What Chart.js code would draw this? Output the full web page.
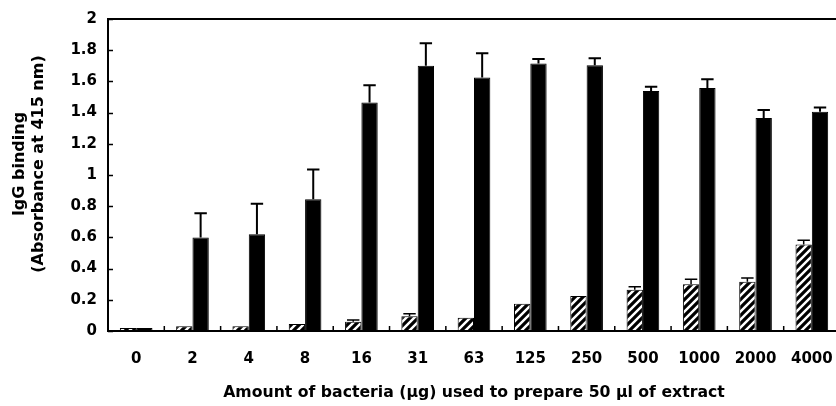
<!DOCTYPE html>
<html>
<head>
<meta charset="utf-8">
<script src="https://cdn.jsdelivr.net/npm/chart.js@4"></script>
<style>
  html, body { margin: 0; padding: 0; background: #fff; overflow: hidden; }
  #wrap { width: 836px; height: 406px; overflow: hidden; }
</style>
</head>
<body>
<div id="wrap"><canvas id="igg" width="842" height="406"></canvas></div>
<script>
var amounts = ['0', '2', '4', '8', '16', '31', '63', '125', '250', '500', '1000', '2000', '4000'];

// hatched bars
var controlMeans = [0.02, 0.03, 0.03, 0.045, 0.06, 0.095, 0.085, 0.175, 0.225, 0.265, 0.30, 0.315, 0.555];
var controlErrs  = [0, 0, 0, 0, 0.01, 0.015, 0, 0, 0, 0.018, 0.032, 0.025, 0.027];

// solid bars
var extractMeans = [0.02, 0.60, 0.62, 0.845, 1.465, 1.70, 1.625, 1.715, 1.703, 1.538, 1.558, 1.365, 1.406];
var extractErrs  = [0, 0.155, 0.195, 0.19, 0.11, 0.145, 0.155, 0.028, 0.045, 0.028, 0.055, 0.052, 0.027];

var yMin = 0;
var yMax = 2;
var yStep = 0.2;

var yTitle = ['IgG binding', '(Absorbance at 415 nm)'];
var xTitle = 'Amount of bacteria (μg) used to prepare 50 μl of extract';

var FONT = "'DejaVu Sans', sans-serif";

function makeHatch() {
	var size = 8;
	var c = document.createElement('canvas');
	c.width = size;
	c.height = size;
	var g = c.getContext('2d');
	g.fillStyle = '#fff';
	g.fillRect(0, 0, size, size);
	g.strokeStyle = '#000';
	g.lineWidth = 3.2;
	g.beginPath();
	g.moveTo(-1, size + 1); g.lineTo(size + 1, -1);
	g.moveTo(-2, 2); g.lineTo(2, -2);
	g.moveTo(size - 2, size + 2); g.lineTo(size + 2, size - 2);
	g.stroke();
	return g.createPattern(c, 'repeat');
}

// error bars, inside ticks, the frame and the rotated y title
var decorations = {
	id: 'decorations',
	afterDatasetsDraw: function(chart) {
		var ctx = chart.ctx;
		var y = chart.scales.y;
		ctx.save();
		ctx.strokeStyle = '#000';
		chart.data.datasets.forEach(function(ds, i) {
			var meta = chart.getDatasetMeta(i);
			meta.data.forEach(function(bar, j) {
				var err = ds.errors[j];
				if (!err) return;
				var top = y.getPixelForValue(ds.data[j] + err);
				var half = bar.width * 0.38;
				ctx.lineWidth = ds.errWidth;
				ctx.beginPath();
				ctx.moveTo(bar.x, bar.y);
				ctx.lineTo(bar.x, top);
				ctx.moveTo(bar.x - half, top);
				ctx.lineTo(bar.x + half, top);
				ctx.stroke();
			});
		});
		ctx.restore();
	},
	afterDraw: function(chart) {
		var ctx = chart.ctx;
		var a = chart.chartArea;
		var y = chart.scales.y;
		ctx.save();
		ctx.strokeStyle = '#000';

		ctx.lineWidth = 1.5;
		ctx.beginPath();
		y.ticks.forEach(function(t) {
			var py = Math.round(y.getPixelForValue(t.value)) + 0.5;
			ctx.moveTo(a.left, py);
			ctx.lineTo(a.left + 5, py);
		});
		var w = (a.right - a.left) / amounts.length;
		for (var k = 1; k < amounts.length; k++) {
			var px = a.left + k * w;
			ctx.moveTo(px, a.bottom);
			ctx.lineTo(px, a.bottom - 5);
		}
		ctx.stroke();

		ctx.lineWidth = 2;
		ctx.strokeRect(a.left, a.top, a.right - a.left, a.bottom - a.top);

		// two-line y title, sits a little above the middle of the axis
		ctx.fillStyle = '#000';
		ctx.font = 'bold 16px ' + FONT;
		ctx.textAlign = 'center';
		ctx.textBaseline = 'middle';
		ctx.translate(0, 164);
		ctx.rotate(-Math.PI / 2);
		ctx.fillText(yTitle[0], 0, 20);
		ctx.fillText(yTitle[1], 0, 39);
		ctx.restore();
	}
};

var ctx = document.getElementById('igg').getContext('2d');
var chart = new Chart(ctx, {
	type: 'bar',
	data: {
		labels: amounts,
		datasets: [{
			data: controlMeans,
			errors: controlErrs,
			errWidth: 1.5,
			backgroundColor: makeHatch(),
			borderColor: '#000',
			borderWidth: 1,
			barPercentage: 1,
			categoryPercentage: 0.58
		}, {
			data: extractMeans,
			errors: extractErrs,
			errWidth: 2,
			backgroundColor: '#000',
			borderColor: '#000',
			borderWidth: 1,
			barPercentage: 1,
			categoryPercentage: 0.58
		}]
	},
	options: {
		responsive: false,
		animation: false,
		devicePixelRatio: 1,
		layout: { padding: { top: 19, right: 2, bottom: 4, left: 0 } },
		plugins: {
			legend: { display: false },
			tooltip: { enabled: false }
		},
		scales: {
			x: {
				grid: { display: false, drawTicks: false },
				border: { display: false },
				ticks: {
					color: '#000',
					padding: 19,
					maxRotation: 0,
					font: { family: FONT, size: 15, weight: 'bold' }
				},
				title: {
					display: true,
					text: xTitle,
					color: '#000',
					padding: { top: 0, bottom: 0 },
					font: { family: FONT, size: 15.7, weight: 'bold', lineHeight: 1.2 }
				},
				afterFit: function(scale) {
					scale.height = 71;
					scale.paddingLeft = 0;
					scale.paddingRight = 0;
				}
			},
			y: {
				min: yMin,
				max: yMax,
				grid: { display: false, drawTicks: false },
				border: { display: false },
				ticks: {
					stepSize: yStep,
					color: '#000',
					padding: 11,
					font: { family: FONT, size: 15, weight: 'bold' },
					callback: function(v) { return String(Math.round(v * 10) / 10); }
				},
				title: { display: false },
				afterFit: function(scale) {
					scale.width = 108;
					scale.paddingTop = 0;
					scale.paddingBottom = 0;
				}
			}
		}
	},
	plugins: [decorations]
});
</script>
</body>
</html>
